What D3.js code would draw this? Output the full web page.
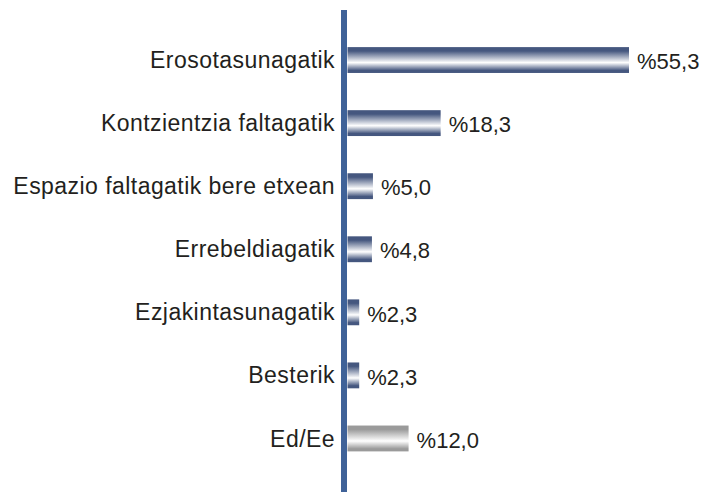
<!DOCTYPE html>
<html><head><meta charset="utf-8">
<script src="https://cdn.jsdelivr.net/npm/d3@7"></script>
<style>body{margin:0;background:#fff}svg{display:block}</style>
</head><body>
<script>
const categories = ["Erosotasunagatik","Kontzientzia faltagatik","Espazio faltagatik bere etxean","Errebeldiagatik","Ezjakintasunagatik","Besterik","Ed/Ee"];
const values = [55.3,18.3,5.0,4.8,2.3,2.3,12.0];
const labels = ["%55,3","%18,3","%5,0","%4,8","%2,3","%2,3","%12,0"];
const grey = [false,false,false,false,false,false,true];

const W=701,H=492;
const svg=d3.select("body").append("svg").attr("width",W).attr("height",H);
const defs=svg.append("defs");
function grad(id,edge,mid){
  const g=defs.append("linearGradient").attr("id",id).attr("x1",0).attr("y1",0).attr("x2",0).attr("y2",1);
  [[0,edge],[0.15,edge],[0.6,mid],[0.9,edge],[1,edge]].forEach(([o,c])=>g.append("stop").attr("offset",o).attr("stop-color",c));
}
grad("gb","#45577f","#ffffff");
grad("gg","#9a9a9a","#ffffff");

const x=d3.scaleLinear().domain([0,55.3]).range([347.5,629]);
const y=d3.scaleBand().domain(categories).range([28.5,470]).paddingInner(0.59).paddingOuter(0.295);
const font="'Liberation Sans', Arial, sans-serif";

svg.selectAll("rect.bar").data(categories).join("rect").attr("class","bar")
  .attr("x",x(0)).attr("y",d=>y(d)).attr("height",y.bandwidth())
  .attr("width",(d,i)=>x(values[i])-x(0))
  .attr("fill",(d,i)=>grey[i]?"url(#gg)":"url(#gb)");

svg.selectAll("text.cat").data(categories).join("text").attr("class","cat")
  .attr("x",335).attr("y",d=>y(d)+y.bandwidth()/2).attr("dy","0.35em")
  .attr("text-anchor","end").attr("font-family",font).attr("letter-spacing",0.45)
  .attr("font-size",23).attr("fill","#231f20").text(d=>d);

svg.selectAll("text.val").data(categories).join("text").attr("class","val")
  .attr("x",(d,i)=>x(values[i])+8).attr("y",d=>y(d)+y.bandwidth()/2+1.5).attr("dy","0.35em")
  .attr("font-family",font)
  .attr("font-size",22).attr("fill","#231f20").text((d,i)=>labels[i]);

svg.append("line").attr("x1",344).attr("x2",344).attr("y1",10).attr("y2",492)
  .attr("stroke","#3f6298").attr("stroke-width",6);
</script>
</body></html>
